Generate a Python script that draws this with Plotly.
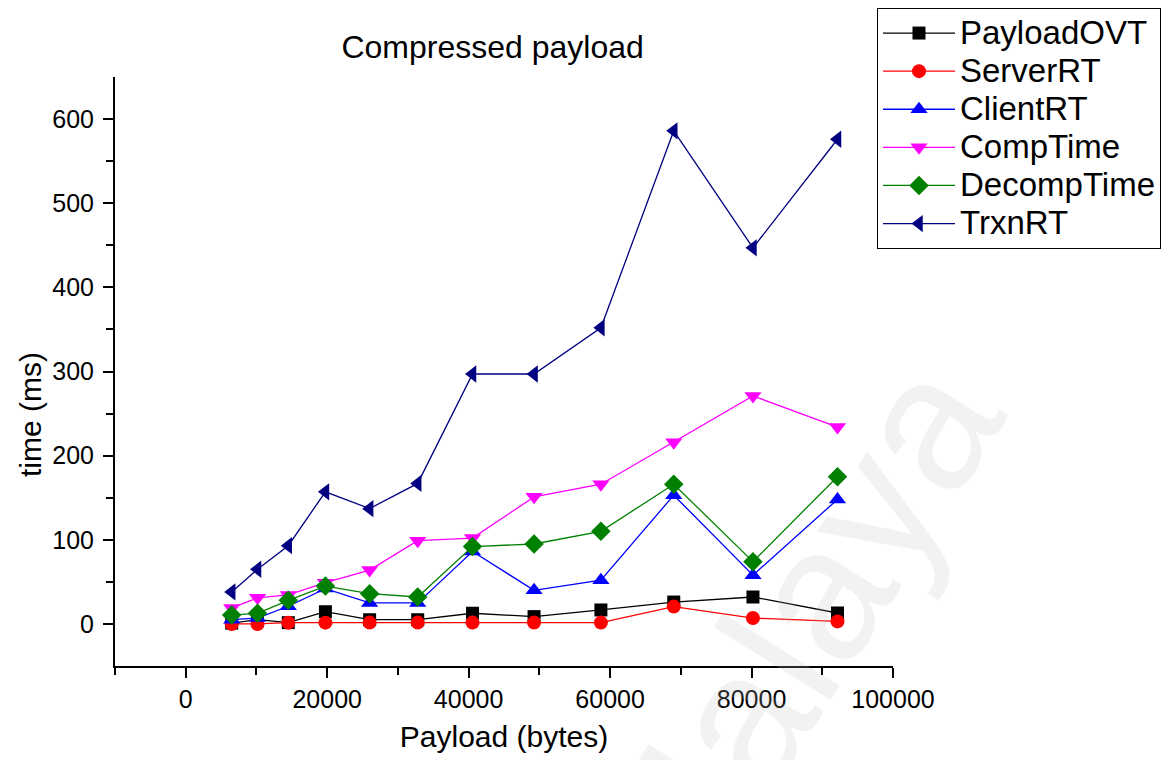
import plotly.graph_objects as go

# Payload sizes (bytes) and measured times (ms)
payload = [6500, 10150, 14500, 19750, 26000, 32800, 40550, 49250, 58700, 69000, 80200, 92150]
payload_ovt = [1, 5, 1.5, 14.5, 5, 5, 12.7, 8.7, 16.6, 26, 32, 13]
server_rt = [0, 0, 1.5, 1.5, 1.6, 1.6, 1.6, 1.6, 1.6, 20.6, 7, 3]
client_rt = [5, 7, 21, 42, 25, 25, 86, 40, 52, 153, 58, 148]
comp_time = [19, 31, 34.5, 49, 64, 99, 102, 151, 166, 216, 271, 234]
decomp_time = [10.5, 12.7, 28, 45, 36, 32, 92, 95, 110, 166, 74, 175]
trxn_rt = [38, 65, 93, 157, 137, 167, 297, 297, 352, 586, 447, 576]

series = [
    ("PayloadOVT", payload_ovt, "#000000", "square", 13),
    ("ServerRT", server_rt, "#ff0000", "circle", 14),
    ("ClientRT", client_rt, "#0000ff", "triangle-up", 15),
    ("CompTime", comp_time, "#ff00ff", "triangle-down", 15),
    ("DecompTime", decomp_time, "#008000", "diamond", 15),
    ("TrxnRT", trxn_rt, "#000080", "triangle-left", 15),
]

FONT = "Liberation Sans, Arial, sans-serif"

fig = go.Figure()
for name, vals, color, symbol, size in series:
    fig.add_trace(go.Scatter(
        x=payload, y=vals, mode="lines+markers",
        # larger glyphs than the legend's base font keep the rows tight
        name=f'<span style="font-size:33px">{name}</span>',
        line=dict(color=color, width=1.3),
        marker=dict(symbol=symbol, size=size, color=color, line=dict(width=0)),
    ))

fig.update_layout(
    width=1173, height=760,
    margin=dict(l=115, r=280, t=77, b=94, autoexpand=False),
    paper_bgcolor="white", plot_bgcolor="white",
    font=dict(family=FONT, color="black"),
    title=dict(text="Compressed payload", x=0.42, xanchor="center",
               y=1 - 47 / 760, yanchor="middle",
               font=dict(size=32, family=FONT, color="black")),
    showlegend=True,
    legend=dict(xref="container", yref="container",
                x=877 / 1173, y=1 - 8 / 760, xanchor="left", yanchor="top",
                bgcolor="white", bordercolor="black", borderwidth=1,
                font=dict(size=27, family=FONT, color="black"),
                itemwidth=72, tracegroupgap=0),
    xaxis=dict(
        range=[-10000, 100000], showgrid=False, zeroline=False,
        showline=True, linecolor="black", linewidth=2,
        ticks="outside", ticklen=10, tickwidth=2, tickcolor="black",
        tickvals=[0, 20000, 40000, 60000, 80000, 100000],
        ticktext=["0", "20000", "40000", "60000", "80000", "100000"],
        tickfont=dict(size=25, family=FONT, color="black"),
        minor=dict(tickvals=[-10000, 10000, 30000, 50000, 70000, 90000],
                   ticks="outside", ticklen=7, tickwidth=2, tickcolor="black"),
        title=dict(text="Payload (bytes)", standoff=14,
                   font=dict(size=30, family=FONT, color="black")),
    ),
    yaxis=dict(
        range=[-50, 650], showgrid=False, zeroline=False,
        showline=True, linecolor="black", linewidth=2,
        ticks="outside", ticklen=10, tickwidth=2, tickcolor="black",
        tickvals=[0, 100, 200, 300, 400, 500, 600],
        tickfont=dict(size=25, family=FONT, color="black"),
        ticklabelstandoff=4,
        minor=dict(tickvals=[50, 150, 250, 350, 450, 550],
                   ticks="outside", ticklen=7, tickwidth=2, tickcolor="black"),
    ),
    annotations=[
        dict(text="time (ms)", xref="paper", yref="paper", x=0, y=(666 - 415) / 589,
             xshift=-85, textangle=-90, showarrow=False,
             xanchor="center", yanchor="middle",
             font=dict(size=30, family=FONT, color="black")),
        dict(text="Malaya", xref="paper", yref="paper",
             x=(790 - 115) / 778, y=(666 - 640) / 589, textangle=-58,
             showarrow=False, xanchor="center", yanchor="middle",
             font=dict(size=190, family=FONT, color="rgba(190,190,190,0.2)")),
    ],
)

fig.write_html("out.html")
